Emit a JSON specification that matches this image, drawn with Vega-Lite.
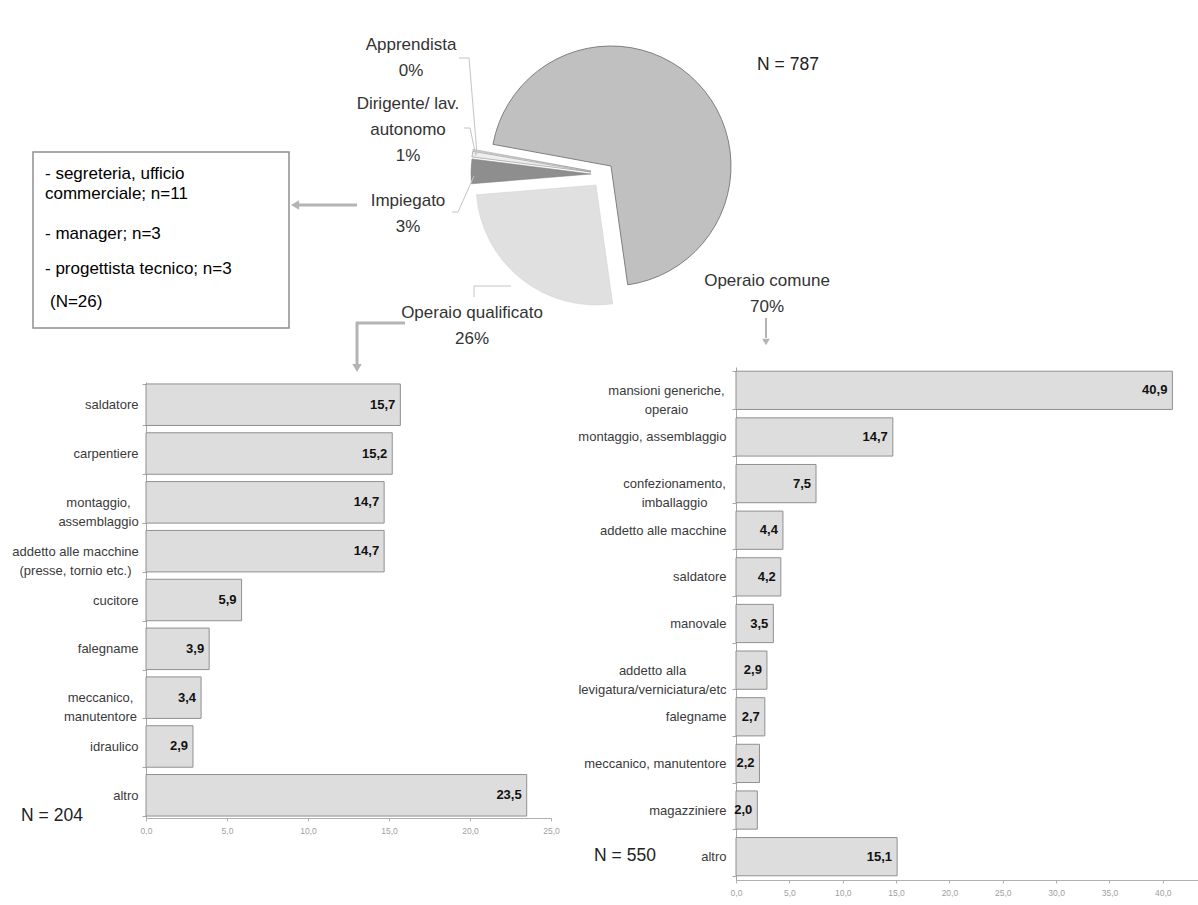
{
  "$schema": "https://vega.github.io/schema/vega-lite/v6.json",
  "width": 1198,
  "height": 905,
  "autosize": {"type": "none"},
  "padding": 0,
  "background": "#ffffff",
  "config": {
    "view": {"stroke": null},
    "font": "Liberation Sans",
    "locale": {"number": {"decimal": ",", "thousands": ".", "grouping": [3], "currency": ["", " €"]}}
  },
  "datasets": {
    "operaio_qualificato": [
      {"mansione": "saldatore", "percentuale": 15.7},
      {"mansione": "carpentiere", "percentuale": 15.2},
      {"mansione": "montaggio,\nassemblaggio", "percentuale": 14.7},
      {"mansione": "addetto alle macchine\n(presse, tornio etc.)", "percentuale": 14.7},
      {"mansione": "cucitore", "percentuale": 5.9},
      {"mansione": "falegname", "percentuale": 3.9},
      {"mansione": "meccanico,\nmanutentore", "percentuale": 3.4},
      {"mansione": "idraulico", "percentuale": 2.9},
      {"mansione": "altro", "percentuale": 23.5}
    ],
    "operaio_comune": [
      {"mansione": "mansioni generiche,\noperaio", "percentuale": 40.9},
      {"mansione": "montaggio, assemblaggio", "percentuale": 14.7},
      {"mansione": "confezionamento,\nimballaggio", "percentuale": 7.5},
      {"mansione": "addetto alle macchine", "percentuale": 4.4},
      {"mansione": "saldatore", "percentuale": 4.2},
      {"mansione": "manovale", "percentuale": 3.5},
      {"mansione": "addetto alla\nlevigatura/verniciatura/etc", "percentuale": 2.9},
      {"mansione": "falegname", "percentuale": 2.7},
      {"mansione": "meccanico, manutentore", "percentuale": 2.2},
      {"mansione": "magazziniere", "percentuale": 2.0},
      {"mansione": "altro", "percentuale": 15.1}
    ],
    "posizione": [
      {"categoria": "Operaio qualificato", "n": 204},
      {"categoria": "Impiegato", "n": 26},
      {"categoria": "Dirigente/ lav. autonomo", "n": 6},
      {"categoria": "Apprendista", "n": 1},
      {"categoria": "Operaio comune", "n": 550}
    ]
  },
  "layer": [
    {
      "data": {"name": "operaio_qualificato"},
      "encoding": {
        "y": {
          "field": "mansione", "type": "nominal", "sort": null, "title": null,
          "scale": {"range": [382, 818], "paddingInner": 0.15, "paddingOuter": 0.04},
          "axis": {
            "orient": "left", "offset": -146, "domainColor": "#a6a6a6", "tickColor": "#a6a6a6", "tickSize": 4, "tickBand": "extent",
            "labelFontSize": 13, "labelColor": "#3a3a3a", "labelLineHeight": 19, "labelExpr": "split(datum.label, '\\n')", "grid": false,
            "labelAlign": {"condition": {"test": "indexof(datum.label, '\\n') >= 0", "value": "center"}, "value": "right"},
            "labelPadding": {"condition": [
              {"test": "datum.label == 'montaggio,\\nassemblaggio'", "value": 44},
              {"test": "datum.label == 'addetto alle macchine\\n(presse, tornio etc.)'", "value": 67},
              {"test": "datum.label == 'meccanico,\\nmanutentore'", "value": 42}
            ], "value": 4}
          }
        },
        "x": {
          "field": "percentuale", "type": "quantitative", "title": null,
          "scale": {"domain": [0, 25], "range": [146, 551], "nice": false},
          "axis": {"orient": "bottom", "offset": -87, "values": [0, 5, 10, 15, 20, 25], "format": ".1f", "domainColor": "#b0b0b0", "tickColor": "#b0b0b0", "tickSize": 3, "labelFontSize": 8.5, "labelColor": "#a0a0a0", "labelPadding": 5, "labelFlush": false, "grid": false}
        }
      },
      "layer": [
        {"mark": {"type": "bar", "fill": "#dddddd", "stroke": "#909090", "strokeWidth": 1}},
        {"mark": {"type": "text", "align": "right", "baseline": "middle", "dx": -5, "fontSize": 13, "fontWeight": "bold", "fill": "#111111"},
         "encoding": {"text": {"field": "percentuale", "type": "quantitative", "format": ".1f"}}}
      ]
    },
    {
      "data": {"name": "operaio_comune"},
      "encoding": {
        "y": {
          "field": "mansione", "type": "nominal", "sort": null, "title": null,
          "scale": {"range": [367, 880], "paddingInner": 0.18, "paddingOuter": 0.09},
          "axis": {
            "orient": "left", "offset": -736, "domainColor": "#a6a6a6", "tickColor": "#a6a6a6", "tickSize": 4, "tickBand": "extent",
            "labelFontSize": 13, "labelColor": "#3a3a3a", "labelLineHeight": 19, "labelExpr": "split(datum.label, '\\n')", "grid": false,
            "labelAlign": {"condition": {"test": "indexof(datum.label, '\\n') >= 0", "value": "center"}, "value": "right"},
            "labelPadding": {"condition": [
              {"test": "datum.label == 'mansioni generiche,\\noperaio'", "value": 66},
              {"test": "datum.label == 'confezionamento,\\nimballaggio'", "value": 58},
              {"test": "datum.label == 'addetto alla\\nlevigatura/verniciatura/etc'", "value": 80}
            ], "value": 6}
          }
        },
        "x": {
          "field": "percentuale", "type": "quantitative", "title": null,
          "scale": {"domain": [0, 43.3], "range": [736, 1198], "nice": false},
          "axis": {"orient": "bottom", "offset": -25, "values": [0, 5, 10, 15, 20, 25, 30, 35, 40], "format": ".1f", "domainColor": "#b0b0b0", "tickColor": "#b0b0b0", "tickSize": 3, "labelFontSize": 8.5, "labelColor": "#a0a0a0", "labelPadding": 5, "labelFlush": false, "grid": false}
        }
      },
      "layer": [
        {"mark": {"type": "bar", "fill": "#dddddd", "stroke": "#909090", "strokeWidth": 1}},
        {"mark": {"type": "text", "align": "right", "baseline": "middle", "dx": -5, "fontSize": 13, "fontWeight": "bold", "fill": "#111111"},
         "encoding": {"text": {"field": "percentuale", "type": "quantitative", "format": ".1f"}}}
      ]
    },
    {
      "data": {"name": "posizione"},
      "transform": [{"stack": "n", "groupby": [], "as": ["inizio", "fine"]}],
      "encoding": {
        "theta": {"field": "inizio", "type": "quantitative", "scale": {"domain": [0, 787], "range": [3.002, 9.285]}},
        "theta2": {"field": "fine"}
      },
      "layer": [
        {"transform": [{"filter": "datum.categoria == 'Operaio comune'"}],
         "mark": {"type": "arc", "x": 611, "y": 166, "outerRadius": 120, "fill": "#c0c0c0", "stroke": "#7f7f7f", "strokeWidth": 1}},
        {"transform": [{"filter": "datum.categoria == 'Operaio qualificato'"}],
         "mark": {"type": "arc", "x": 596, "y": 185, "outerRadius": 120, "fill": "#e0e0e0", "stroke": "#d0d0d0", "strokeWidth": 0.5}},
        {"transform": [{"filter": "datum.categoria == 'Impiegato'"}],
         "mark": {"type": "arc", "x": 591, "y": 174, "outerRadius": 120, "fill": "#8e8e8e", "stroke": "#7a7a7a", "strokeWidth": 0.5}},
        {"transform": [{"filter": "datum.categoria == 'Dirigente/ lav. autonomo'"}],
         "mark": {"type": "arc", "x": 591, "y": 172, "outerRadius": 120, "fill": "#eeeeee", "stroke": "#8a8a8a", "strokeWidth": 0.6}},
        {"transform": [{"filter": "datum.categoria == 'Apprendista'"}],
         "mark": {"type": "arc", "x": 591, "y": 171, "outerRadius": 120, "fill": "#ffffff", "stroke": "#8a8a8a", "strokeWidth": 0.5}}
      ]
    },
    {"data": {"values": [{}]}, "mark": {"type": "rect", "x": 33, "y": 152, "x2": 289, "y2": 328, "fill": "#ffffff", "stroke": "#8f8f8f", "strokeWidth": 1.5}, "encoding": {}},
    {"data": {"values": [{}]}, "mark": {"type": "text", "x": 45, "y": 179, "align": "left", "baseline": "alphabetic", "fontSize": 17, "fill": "#000000", "text": "- segreteria, ufficio"}, "encoding": {}},
    {"data": {"values": [{}]}, "mark": {"type": "text", "x": 45, "y": 199, "align": "left", "baseline": "alphabetic", "fontSize": 17, "fill": "#000000", "text": "commerciale; n=11"}, "encoding": {}},
    {"data": {"values": [{}]}, "mark": {"type": "text", "x": 45, "y": 239, "align": "left", "baseline": "alphabetic", "fontSize": 17, "fill": "#000000", "text": "- manager; n=3"}, "encoding": {}},
    {"data": {"values": [{}]}, "mark": {"type": "text", "x": 45, "y": 274, "align": "left", "baseline": "alphabetic", "fontSize": 17, "fill": "#000000", "text": "- progettista tecnico; n=3"}, "encoding": {}},
    {"data": {"values": [{}]}, "mark": {"type": "text", "x": 50, "y": 307, "align": "left", "baseline": "alphabetic", "fontSize": 17, "fill": "#000000", "text": "(N=26)"}, "encoding": {}},
    {"data": {"values": [{}]}, "mark": {"type": "text", "x": 411, "y": 50, "align": "center", "baseline": "alphabetic", "fontSize": 17, "lineHeight": 26, "fill": "#333333", "text": ["Apprendista", "0%"]}, "encoding": {}},
    {"data": {"values": [{}]}, "mark": {"type": "text", "x": 408, "y": 109, "align": "center", "baseline": "alphabetic", "fontSize": 17, "lineHeight": 26, "fill": "#333333", "text": ["Dirigente/ lav.", "autonomo", "1%"]}, "encoding": {}},
    {"data": {"values": [{}]}, "mark": {"type": "text", "x": 408, "y": 206, "align": "center", "baseline": "alphabetic", "fontSize": 17, "lineHeight": 26, "fill": "#333333", "text": ["Impiegato", "3%"]}, "encoding": {}},
    {"data": {"values": [{}]}, "mark": {"type": "text", "x": 472, "y": 318, "align": "center", "baseline": "alphabetic", "fontSize": 17, "lineHeight": 26, "fill": "#333333", "text": ["Operaio qualificato", "26%"]}, "encoding": {}},
    {"data": {"values": [{}]}, "mark": {"type": "text", "x": 767, "y": 286, "align": "center", "baseline": "alphabetic", "fontSize": 17, "lineHeight": 26, "fill": "#333333", "text": ["Operaio comune", "70%"]}, "encoding": {}},
    {"data": {"values": [{}]}, "mark": {"type": "text", "x": 788, "y": 70, "align": "center", "baseline": "alphabetic", "fontSize": 17.5, "fill": "#222222", "text": "N = 787"}, "encoding": {}},
    {"data": {"values": [{}]}, "mark": {"type": "text", "x": 52, "y": 821, "align": "center", "baseline": "alphabetic", "fontSize": 17.5, "fill": "#222222", "text": "N = 204"}, "encoding": {}},
    {"data": {"values": [{}]}, "mark": {"type": "text", "x": 625, "y": 861, "align": "center", "baseline": "alphabetic", "fontSize": 17.5, "fill": "#222222", "text": "N = 550"}, "encoding": {}},
    {"data": {"values": [{}]}, "mark": {"type": "rule", "stroke": "#c4c4c4", "strokeWidth": 1}, "encoding": {"x": {"value": 459}, "y": {"value": 58}, "x2": {"value": 469}, "y2": {"value": 58}}},
    {"data": {"values": [{}]}, "mark": {"type": "rule", "stroke": "#c4c4c4", "strokeWidth": 1}, "encoding": {"x": {"value": 469}, "y": {"value": 58}, "x2": {"value": 477}, "y2": {"value": 154}}},
    {"data": {"values": [{}]}, "mark": {"type": "rule", "stroke": "#c4c4c4", "strokeWidth": 1}, "encoding": {"x": {"value": 464}, "y": {"value": 128}, "x2": {"value": 470}, "y2": {"value": 128}}},
    {"data": {"values": [{}]}, "mark": {"type": "rule", "stroke": "#c4c4c4", "strokeWidth": 1}, "encoding": {"x": {"value": 470}, "y": {"value": 128}, "x2": {"value": 476}, "y2": {"value": 156}}},
    {"data": {"values": [{}]}, "mark": {"type": "rule", "stroke": "#c4c4c4", "strokeWidth": 1}, "encoding": {"x": {"value": 452}, "y": {"value": 212}, "x2": {"value": 458}, "y2": {"value": 212}}},
    {"data": {"values": [{}]}, "mark": {"type": "rule", "stroke": "#c4c4c4", "strokeWidth": 1}, "encoding": {"x": {"value": 458}, "y": {"value": 212}, "x2": {"value": 474}, "y2": {"value": 176}}},
    {"data": {"values": [{}]}, "mark": {"type": "rule", "stroke": "#c4c4c4", "strokeWidth": 1}, "encoding": {"x": {"value": 474}, "y": {"value": 286}, "x2": {"value": 511}, "y2": {"value": 286}}},
    {"data": {"values": [{}]}, "mark": {"type": "rule", "stroke": "#c4c4c4", "strokeWidth": 1}, "encoding": {"x": {"value": 474}, "y": {"value": 286}, "x2": {"value": 474}, "y2": {"value": 297}}},
    {"data": {"values": [{}]}, "mark": {"type": "rule", "stroke": "#b4b4b4", "strokeWidth": 3}, "encoding": {"x": {"value": 298}, "y": {"value": 205}, "x2": {"value": 357}, "y2": {"value": 205}}},
    {"data": {"values": [{}]}, "mark": {"type": "point", "shape": "triangle-left", "x": 295, "y": 205, "size": 90, "filled": true, "fill": "#b4b4b4", "opacity": 1}, "encoding": {}},
    {"data": {"values": [{}]}, "mark": {"type": "rule", "stroke": "#b4b4b4", "strokeWidth": 3}, "encoding": {"x": {"value": 356}, "y": {"value": 323}, "x2": {"value": 405}, "y2": {"value": 323}}},
    {"data": {"values": [{}]}, "mark": {"type": "rule", "stroke": "#b4b4b4", "strokeWidth": 3}, "encoding": {"x": {"value": 357}, "y": {"value": 322}, "x2": {"value": 357}, "y2": {"value": 364}}},
    {"data": {"values": [{}]}, "mark": {"type": "point", "shape": "triangle-down", "x": 357, "y": 368, "size": 90, "filled": true, "fill": "#b4b4b4", "opacity": 1}, "encoding": {}},
    {"data": {"values": [{}]}, "mark": {"type": "rule", "stroke": "#b4b4b4", "strokeWidth": 2}, "encoding": {"x": {"value": 766}, "y": {"value": 318}, "x2": {"value": 766}, "y2": {"value": 338}}},
    {"data": {"values": [{}]}, "mark": {"type": "point", "shape": "triangle-down", "x": 766, "y": 342, "size": 60, "filled": true, "fill": "#b4b4b4", "opacity": 1}, "encoding": {}}
  ],
  "resolve": {
    "scale": {"x": "independent", "y": "independent"},
    "axis": {"x": "independent", "y": "independent"}
  }
}
